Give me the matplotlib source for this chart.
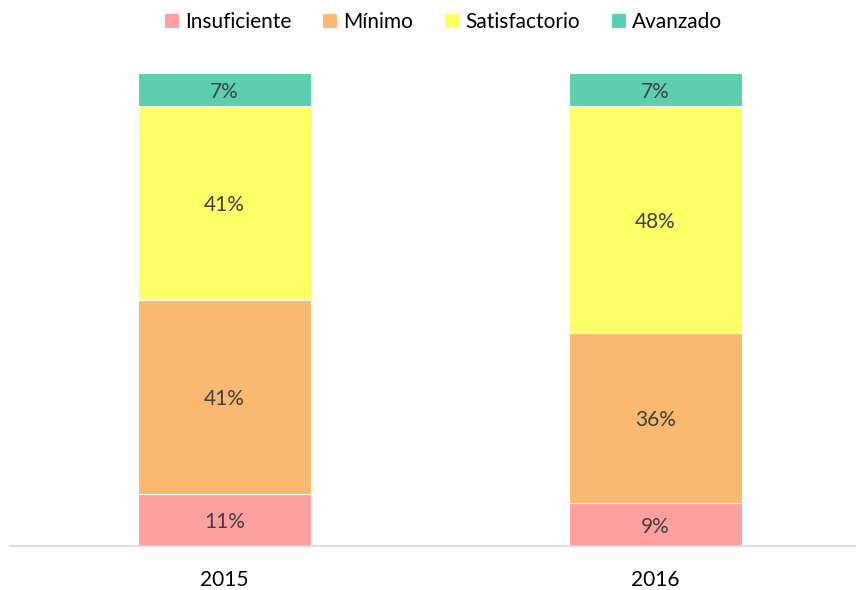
import matplotlib.pyplot as plt
import numpy as np

years = ['2015', '2016']
levels = ['Insuficiente', 'Mínimo', 'Satisfactorio', 'Avanzado']
insuficiente = [11, 9]
minimo = [41, 36]
satisfactorio = [41, 48]
avanzado = [7, 7]
colors = ['#FF9F9F', '#FBB870', '#FFFF66', '#5CCFB0']

plt.rcParams['font.family'] = ['Lato', 'DejaVu Sans']

fig = plt.figure(figsize=(8.56, 5.9), dpi=100)
ax = fig.add_axes([10 / 856, 44 / 590, 845 / 856, 473 / 590])

x = np.arange(len(years))
bottom = np.zeros(len(years))
for name, vals, c in zip(levels, [insuficiente, minimo, satisfactorio, avanzado], colors):
    vals = np.array(vals)
    ax.bar(x, vals, width=0.4, bottom=bottom, color=c, label=name, edgecolor='white', linewidth=0.8)
    for xi, b, v in zip(x, bottom, vals):
        ax.text(xi, b + v / 2, f'{v}%', ha='center', va='center_baseline', fontsize=15, color='#404040')
    bottom += vals

ax.set_xlim(-0.4977, 1.4629)
ax.set_ylim(0, 100)
ax.set_yticks([])
ax.set_xticks(x)
ax.set_xticklabels(years, fontsize=15, color='#000000')
ax.tick_params(axis='x', length=0, pad=17)
for s in ['top', 'left', 'right']:
    ax.spines[s].set_visible(False)
ax.spines['bottom'].set_color('#D9D9D9')
ax.spines['bottom'].set_linewidth(1.2)

fig.legend(loc='center', bbox_to_anchor=(443 / 856, 1 - 22 / 590), ncol=4, frameon=False,
           fontsize=15, handlelength=0.7, handleheight=0.7, handletextpad=0.3, columnspacing=1.5)

fig.savefig('out.png', dpi=100)
